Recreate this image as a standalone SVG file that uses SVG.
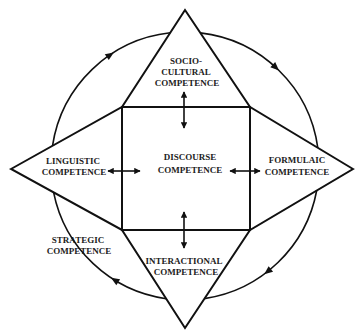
<svg xmlns="http://www.w3.org/2000/svg" width="356" height="331" viewBox="0 0 356 331">
<style>
.shape{fill:#fff;stroke:#111;stroke-width:2;stroke-linejoin:miter}
.arc{fill:none;stroke:#111;stroke-width:1.6}
.dbl{fill:none;stroke:#111;stroke-width:1.6;marker-start:url(#ah);marker-end:url(#ah)}
text{font-family:"Liberation Serif","Times New Roman",serif;font-weight:bold;font-size:9px;fill:#222;text-anchor:middle}
</style>
<defs>
<marker id="ah" viewBox="0 0 10 10" refX="9" refY="5" markerWidth="4" markerHeight="4" orient="auto-start-reverse">
<path d="M0,0 L10,5 L0,10 Z" fill="#111"/>
</marker>
<polygon id="cw" points="4.5,0 -4,-3.6 -4,3.6" fill="#111"/>
</defs>
<rect width="356" height="331" fill="#fff"/>
<g id="sociocultural">
<polygon class="shape" points="185,10 250,107 122,107"/>
<text x="186" y="64">SOCIO-</text>
<text x="186" y="75">CULTURAL</text>
<text x="187" y="86">COMPETENCE</text>
</g>
<g id="linguistic">
<polygon class="shape" points="11,169 122,107 122,230"/>
<text x="73" y="164">LINGUISTIC</text>
<text x="74" y="175">COMPETENCE</text>
</g>
<g id="formulaic">
<polygon class="shape" points="353,169 250,107 250,230"/>
<text x="297" y="163">FORMULAIC</text>
<text x="297" y="175">COMPETENCE</text>
</g>
<g id="interactional">
<polygon class="shape" points="185,328 250,230 122,230"/>
<text x="184" y="264">INTERACTIONAL</text>
<text x="186" y="275">COMPETENCE</text>
</g>
<g id="discourse">
<rect class="shape" x="122" y="107" width="128" height="123"/>
<text x="190" y="160">DISCOURSE</text>
<text x="190" y="173">COMPETENCE</text>
</g>
<g id="strategic">
<text x="78" y="243">STRATEGIC</text>
<text x="79" y="254">COMPETENCE</text>
</g>
<g id="connectors">
<path class="arc" d="M52.5,145.8 A134,134 0 0 1 170.2,32.8"/>
<path class="arc" d="M200.3,32.9 A134,134 0 0 1 317.8,147.8"/>
<path class="arc" d="M316.7,190.5 A134,134 0 0 1 204.5,298.6"/>
<path class="arc" d="M166.1,298.7 A134,134 0 0 1 53.6,192.4"/>
<use href="#cw" transform="translate(110.1,54.9) rotate(-34)"/>
<use href="#cw" transform="translate(275.7,67.4) rotate(42.6)"/>
<use href="#cw" transform="translate(267.7,271.5) rotate(141.9)"/>
<use href="#cw" transform="translate(114.8,280.2) rotate(211.6)"/>
<line class="dbl" x1="184" y1="92" x2="184" y2="128"/>
<line class="dbl" x1="184" y1="212" x2="184" y2="248"/>
<line class="dbl" x1="108" y1="171" x2="140" y2="171"/>
<line class="dbl" x1="230" y1="171" x2="260" y2="171"/>
</g>
</svg>
